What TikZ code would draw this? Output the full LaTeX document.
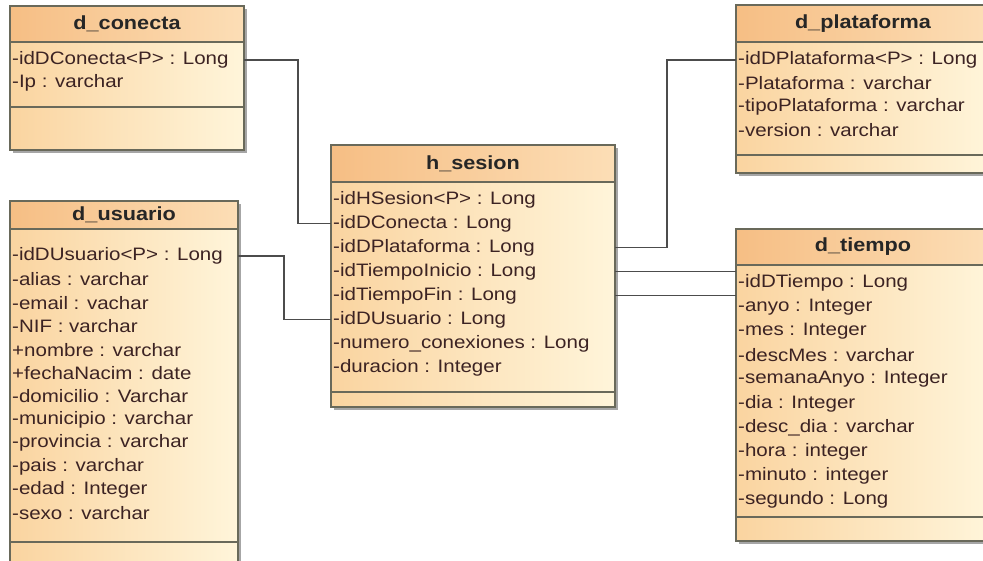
\documentclass[tikz,border=0pt]{standalone}
\usepackage{fontspec}
\setmainfont{Liberation Sans}[FakeStretch=1.14]
\usepackage{xcolor}
\usepackage{tikz}
\usetikzlibrary{shadows}

\definecolor{bodyL}{RGB}{250,212,160}
\definecolor{bodyR}{RGB}{255,245,218}
\definecolor{headL}{RGB}{246,190,132}
\definecolor{headR}{RGB}{252,222,182}
\definecolor{frame}{RGB}{105,105,90}
\definecolor{txt}{RGB}{60,35,35}

\tikzset{
  classbox/.style={anchor=north west, inner sep=0, outer sep=0,
    left color=bodyL, right color=bodyR,
    drop shadow={shadow xshift=3pt, shadow yshift=-3pt, fill=black!35, opacity=1}},
  head/.style={left color=headL, right color=headR},
  boxline/.style={draw=frame, line width=1.2pt},
  title/.style={font=\fontsize{19}{22}\selectfont\bfseries, text=black!85},
  attr/.style={anchor=west, inner sep=0, text=txt, font=\fontsize{18}{22}\selectfont},
  link/.style={draw=black!70, line width=1.6pt}
}

\begin{document}
\begin{tikzpicture}[x=1pt,y=1pt]
	\useasboundingbox (0,0) rectangle (983,560);
	\clip (0,0) rectangle (983,560);
	\fill[white] (0,0) rectangle (983,560);

	% d_conecta
	\node[classbox, minimum width=234pt, minimum height=144pt] (conecta) at (10,554) {};
	\shade[head] (10,554) rectangle (244,518);
	\draw[boxline] (conecta.north west) rectangle (conecta.south east);
	\draw[boxline] (10,518) -- (244,518) (10,453) -- (244,453);
	\node[title] (conectaT) at (127,536) {d\_conecta};
	\node[attr] (cn1) at (12,500) {-idDConecta<P> : Long};
	\node[attr] (cn2) at (12,477) {-Ip : varchar};

	% d_usuario
	\node[classbox, minimum width=228pt, minimum height=377pt] (usuario) at (10,359) {};
	\shade[head] (10,359) rectangle (238,331);
	\draw[boxline] (usuario.north west) rectangle (usuario.south east);
	\draw[boxline] (10,331) -- (238,331) (10,18) -- (238,18);
	\node[title] (usuarioT) at (124,345) {d\_usuario};
	\node[attr] (us1) at (12,304) {-idDUsuario<P> : Long};
	\node[attr] (us2) at (12,280.6) {-alias : varchar};
	\node[attr] (us3) at (12,257.2) {-email : vachar};
	\node[attr] (us4) at (12,233.8) {-NIF : varchar};
	\node[attr] (us5) at (12,210.4) {+nombre : varchar};
	\node[attr] (us6) at (12,187) {+fechaNacim : date};
	\node[attr] (us7) at (12,163.6) {-domicilio : Varchar};
	\node[attr] (us8) at (12,140.2) {-municipio : varchar};
	\node[attr] (us9) at (12,116.8) {-provincia : varchar};
	\node[attr] (us10) at (12,93.4) {-pais : varchar};
	\node[attr] (us11) at (12,70) {-edad : Integer};
	\node[attr] (us12) at (12,46.6) {-sexo : varchar};

	% h_sesion
	\node[classbox, minimum width=284pt, minimum height=262pt] (sesion) at (331,415) {};
	\shade[head] (331,415) rectangle (615,378);
	\draw[boxline] (sesion.north west) rectangle (sesion.south east);
	\draw[boxline] (331,378) -- (615,378) (331,168) -- (615,168);
	\node[title] (sesionT) at (473,396.5) {h\_sesion};
	\node[attr] (ss1) at (333,360.5) {-idHSesion<P> : Long};
	\node[attr] (ss2) at (333,336.5) {-idDConecta : Long};
	\node[attr] (ss3) at (333,312.5) {-idDPlataforma : Long};
	\node[attr] (ss4) at (333,288.5) {-idTiempoInicio : Long};
	\node[attr] (ss5) at (333,264.5) {-idTiempoFin : Long};
	\node[attr] (ss6) at (333,240.5) {-idDUsuario : Long};
	\node[attr] (ss7) at (333,216.5) {-numero\_conexiones : Long};
	\node[attr] (ss8) at (333,192.5) {-duracion : Integer};

	% d_plataforma
	\node[classbox, minimum width=254pt, minimum height=168pt] (plataforma) at (736,555) {};
	\shade[head] (736,555) rectangle (990,518);
	\draw[boxline] (plataforma.north west) rectangle (plataforma.south east);
	\draw[boxline] (736,518) -- (990,518) (736,405) -- (990,405);
	\node[title] (plataformaT) at (863,536.5) {d\_plataforma};
	\node[attr] (pl1) at (738,500) {-idDPlataforma<P> : Long};
	\node[attr] (pl2) at (738,476.5) {-Plataforma : varchar};
	\node[attr] (pl3) at (738,453) {-tipoPlataforma : varchar};
	\node[attr] (pl4) at (738,429.5) {-version : varchar};

	% d_tiempo
	\node[classbox, minimum width=254pt, minimum height=312pt] (tiempo) at (736,331) {};
	\shade[head] (736,331) rectangle (990,295);
	\draw[boxline] (tiempo.north west) rectangle (tiempo.south east);
	\draw[boxline] (736,295) -- (990,295) (736,43) -- (990,43);
	\node[title] (tiempoT) at (863,313) {d\_tiempo};
	\node[attr] (ti1) at (738,277) {-idDTiempo : Long};
	\node[attr] (ti2) at (738,252.9) {-anyo : Integer};
	\node[attr] (ti3) at (738,228.8) {-mes : Integer};
	\node[attr] (ti4) at (738,204.7) {-descMes : varchar};
	\node[attr] (ti5) at (738,180.6) {-semanaAnyo : Integer};
	\node[attr] (ti6) at (738,156.5) {-dia : Integer};
	\node[attr] (ti7) at (738,132.4) {-desc\_dia : varchar};
	\node[attr] (ti8) at (738,108.3) {-hora : integer};
	\node[attr] (ti9) at (738,84.2) {-minuto : integer};
	\node[attr] (ti10) at (738,60.1) {-segundo : Long};

	% connectors
	\draw[link] (cn1 -| conecta.east) -- ++(54,0) |- (ss2 -| sesion.west);
	\draw[link] (us1 -| usuario.east) -- ++(46,0) |- (ss6 -| sesion.west);
	\draw[link] (ss3 -| sesion.east) -- ++(52,0) |- (pl1 -| plataforma.west);
	\draw[link] (ss4 -| sesion.east) -- (ss4 -| tiempo.west);
	\draw[link] (ss5 -| sesion.east) -- (ss5 -| tiempo.west);
\end{tikzpicture}
\end{document}
